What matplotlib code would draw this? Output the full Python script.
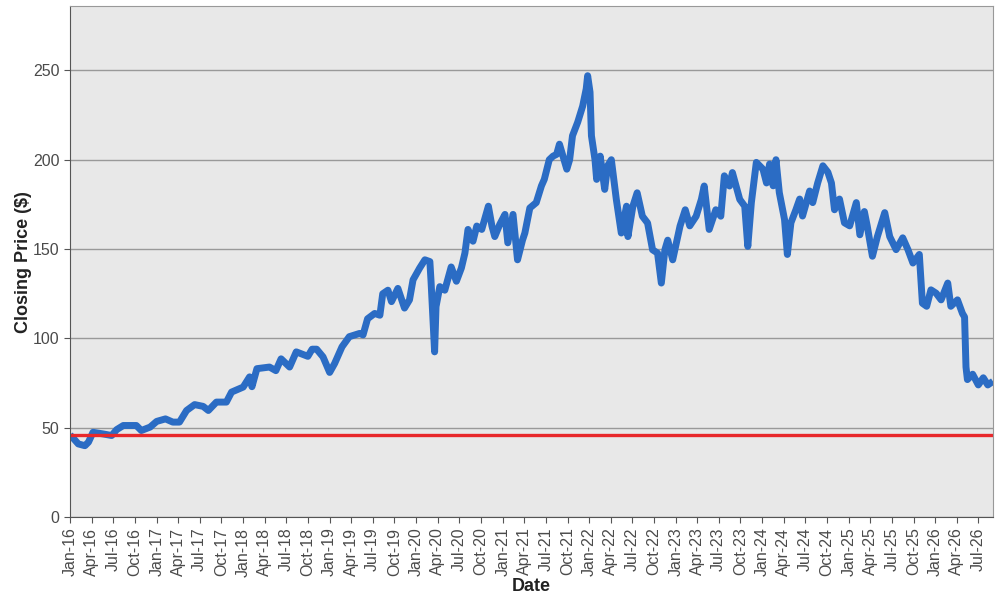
import matplotlib
matplotlib.use("Agg")
import matplotlib.pyplot as plt
import matplotlib.dates as mdates
import pandas as pd

# closing prices, roughly two or three points per month
dates = [
    "2016-01-01", "2016-01-16", "2016-02-05", "2016-03-04", "2016-03-19", "2016-04-07",
    "2016-05-19", "2016-06-25", "2016-07-16", "2016-08-13", "2016-10-07", "2016-10-28",
    "2016-12-04", "2017-01-01", "2017-02-07", "2017-03-10", "2017-04-07", "2017-05-07",
    "2017-06-10", "2017-07-16", "2017-08-07", "2017-09-10", "2017-10-22", "2017-11-13",
    "2018-01-01", "2018-01-28", "2018-02-07", "2018-02-28", "2018-04-22", "2018-05-19",
    "2018-06-10", "2018-07-16", "2018-08-13", "2018-10-01", "2018-10-19", "2018-11-07",
    "2018-12-04", "2019-01-01", "2019-01-22", "2019-02-22", "2019-03-25", "2019-05-07",
    "2019-05-22", "2019-06-10", "2019-07-10", "2019-08-01", "2019-08-13", "2019-09-04",
    "2019-09-19", "2019-10-16", "2019-11-13", "2019-12-04", "2019-12-19", "2020-01-16",
    "2020-02-07", "2020-02-28", "2020-03-04", "2020-03-10", "2020-03-19", "2020-03-25",
    "2020-04-10", "2020-05-01", "2020-05-28", "2020-06-19", "2020-07-10", "2020-07-25",
    "2020-08-07", "2020-08-28", "2020-09-13", "2020-10-04", "2020-11-01", "2020-11-16",
    "2020-11-28", "2020-12-19", "2021-01-10", "2021-01-22", "2021-02-13", "2021-03-04",
    "2021-03-25", "2021-04-04", "2021-04-25", "2021-05-22", "2021-06-13", "2021-06-25",
    "2021-07-16", "2021-08-01", "2021-08-16", "2021-08-28", "2021-09-28", "2021-10-10",
    "2021-10-22", "2021-11-13", "2021-12-04", "2021-12-19", "2021-12-25", "2022-01-04",
    "2022-01-10", "2022-01-25", "2022-02-01", "2022-02-16", "2022-03-07", "2022-03-19",
    "2022-04-04", "2022-04-25", "2022-05-16", "2022-06-07", "2022-06-13", "2022-07-04",
    "2022-07-22", "2022-08-13", "2022-09-04", "2022-09-25", "2022-10-16", "2022-11-01",
    "2022-11-16", "2022-11-28", "2022-12-19", "2023-01-19", "2023-02-10", "2023-03-01",
    "2023-03-28", "2023-04-19", "2023-05-01", "2023-05-22", "2023-06-19", "2023-07-10",
    "2023-07-25", "2023-08-16", "2023-08-28", "2023-09-28", "2023-10-19", "2023-11-01",
    "2023-11-16", "2023-12-07", "2024-01-04", "2024-01-19", "2024-02-01", "2024-02-16",
    "2024-02-28", "2024-03-13", "2024-04-04", "2024-04-16", "2024-05-01", "2024-05-22",
    "2024-06-07", "2024-06-19", "2024-07-19", "2024-08-01", "2024-08-22", "2024-09-13",
    "2024-10-04", "2024-10-19", "2024-11-01", "2024-11-22", "2024-12-13", "2025-01-04",
    "2025-02-01", "2025-02-16", "2025-03-07", "2025-03-19", "2025-04-10", "2025-05-01",
    "2025-06-01", "2025-06-22", "2025-07-19", "2025-08-16", "2025-09-07", "2025-09-28",
    "2025-10-25", "2025-11-07", "2025-11-25", "2025-12-13", "2026-01-04", "2026-01-25",
    "2026-02-22", "2026-03-07", "2026-04-04", "2026-04-25", "2026-05-04", "2026-05-10",
    "2026-05-16", "2026-06-07", "2026-07-01", "2026-07-22", "2026-08-10", "2026-09-01",
]
prices = [
    46, 44, 41, 40, 42, 47.5,
    46.6, 45.7, 49, 51.3, 51.3, 48.5,
    50.4, 53.6, 55, 53.2, 53.2, 59.7,
    63, 62, 59.7, 64.4, 64.4, 70,
    72.8, 78.5, 73, 83.1, 84, 82,
    88.6, 84, 92.5, 90, 94, 94,
    89.7, 81, 86, 95.3, 101, 102.8,
    102, 111, 114, 113, 125, 127,
    120.6, 128, 117, 121.6, 132.8, 139.4,
    144, 143, 131.9, 116, 92.5, 117.8,
    129, 127, 140, 132, 139.4, 147.8,
    161, 154.4, 162.9, 161, 174, 162.9,
    157, 163.8, 169.4, 153.5, 169.4, 144,
    155, 159, 173, 176, 185.4, 189,
    200, 202, 203, 208.7, 194.7, 200,
    213.4, 221, 230, 239.7, 247, 237.8,
    213.4, 200, 189, 202, 183.4, 196.5,
    200, 177.8, 159, 174, 157, 174,
    181.5, 168.4, 164.6, 149.6, 147.8, 131,
    149.6, 155, 144, 162.9, 172, 163,
    168.4, 177.8, 185.3, 161, 172, 168.4,
    191, 185.3, 192.8, 177.8, 174, 151.5,
    176, 198.5, 194.7, 187, 197.6, 185.4,
    200, 181.6, 166.6, 147, 164.7, 172,
    178, 168.5, 182.5, 176, 187, 196.6,
    193, 187, 172, 178, 164.7, 163,
    176, 158, 171, 163, 146, 157,
    170.4, 157, 149.7, 156.3, 149.7, 142.2,
    147, 119.7, 118, 127.2, 125.3, 121.6,
    131, 118, 121.6, 114, 112, 84,
    77, 80, 74, 78, 74, 76,
]
reference_level = 46

x = pd.to_datetime(dates)

plt.rcParams["font.family"] = ["Liberation Sans", "DejaVu Sans"]

fig = plt.figure(figsize=(10, 6), dpi=100)
ax = fig.add_axes([0.07, 0.138, 0.923, 0.852])
ax.set_facecolor("#E8E8E8")

ax.plot(x, prices, color="#2B6CC4", linewidth=5, solid_joinstyle="round",
        solid_capstyle="butt")
ax.axhline(reference_level, color="#E8282B", linewidth=2.4)

ax.set_ylim(0, 286)
ax.set_yticks(range(0, 251, 50))
ax.set_xlim(pd.Timestamp("2016-01-01"), pd.Timestamp("2026-09-01"))
ax.xaxis.set_major_locator(mdates.MonthLocator(bymonth=[1, 4, 7, 10]))
ax.xaxis.set_major_formatter(mdates.DateFormatter("%b-%y"))
plt.setp(ax.get_xticklabels(), rotation=90)

ax.grid(axis="y", color="#999999", linewidth=1)
ax.set_axisbelow(True)
ax.tick_params(colors="#555555", labelcolor="#4a4a4a", labelsize=11.5, length=4)

for side in ["left", "bottom"]:
    ax.spines[side].set_color("#555555")
for side in ["top", "right"]:
    ax.spines[side].set_color("#999999")

ax.set_ylabel("Closing Price ($)", fontsize=13, fontweight="bold", color="#222222",
              labelpad=1)
ax.set_xlabel("Date", fontsize=13, fontweight="bold", color="#222222", labelpad=1)

fig.savefig("out.png", dpi=100)
plt.close(fig)
